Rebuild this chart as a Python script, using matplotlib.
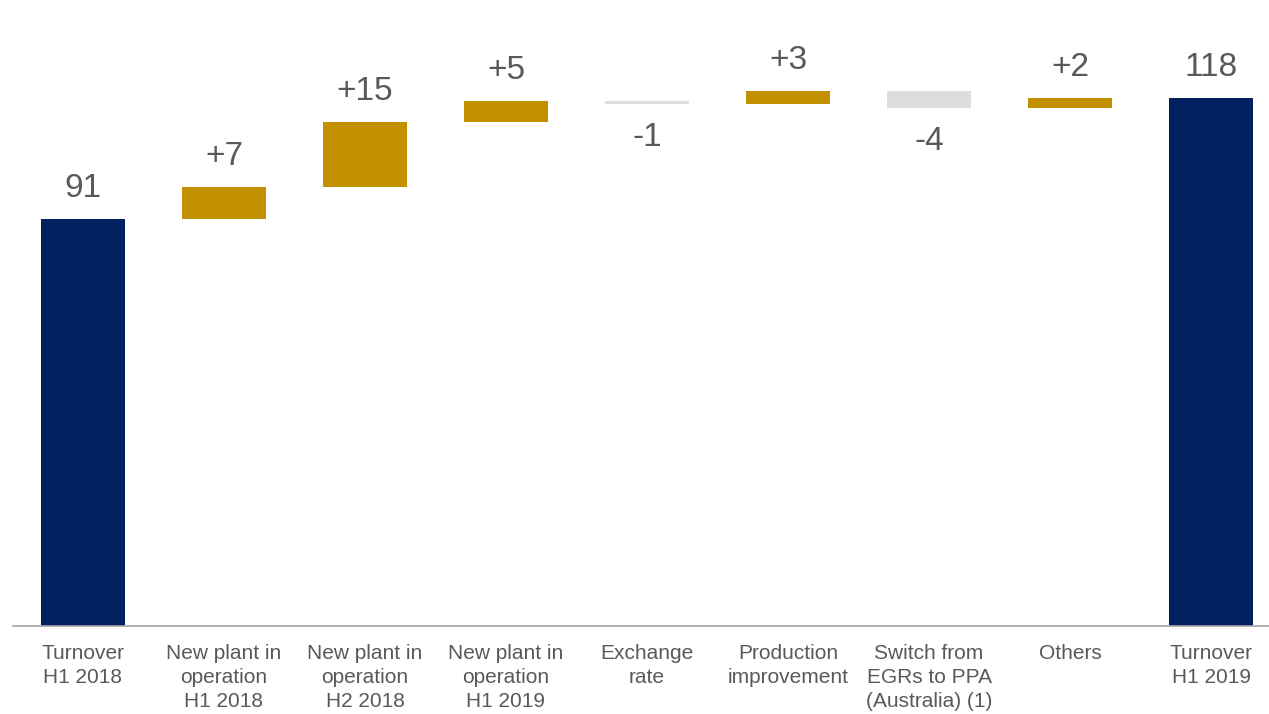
import numpy as np
import matplotlib.pyplot as plt

# Turnover bridge H1 2018 -> H1 2019
categories = ['Turnover\nH1 2018', 'New plant in\noperation\nH1 2018', 'New plant in\noperation\nH2 2018',
              'New plant in\noperation\nH1 2019', 'Exchange\nrate', 'Production\nimprovement',
              'Switch from\nEGRs to PPA\n(Australia) (1)', 'Others', 'Turnover\nH1 2019']
start_value = 91
changes = [7.1, 14.6, 4.7, -0.6, 2.8, -3.7, 2.2]
change_labels = ['+7', '+15', '+5', '-1', '+3', '-4', '+2']
end_value = 118

navy = '#002060'
gold = '#C39000'
grey = '#DDDDDD'
text_col = '#595959'

plt.rcParams['font.family'] = ['Liberation Sans', 'DejaVu Sans']

fig = plt.figure(figsize=(12.69, 7.14), dpi=100)
ax = fig.add_axes([13 / 1269, 88 / 714, 1 - 13 / 1269, 626 / 714])

width = 0.59
x = np.arange(len(categories))

# totals
ax.bar(x[0], start_value, width, color=navy)
ax.bar(x[-1], end_value, width, color=navy)
ax.text(x[0], start_value + 3.4, str(start_value), ha='center', va='bottom', fontsize=24, color=text_col)
ax.text(x[-1], end_value + 3.4, str(end_value), ha='center', va='bottom', fontsize=24, color=text_col)

# floating steps
level = start_value
for i, (d, lab) in enumerate(zip(changes, change_labels)):
    xi = x[i + 1]
    col = gold if d > 0 else grey
    ax.bar(xi, d, width, bottom=level, color=col)
    if d > 0:
        ax.text(xi, level + d + 3.4, lab, ha='center', va='bottom', fontsize=24, color=text_col)
    else:
        ax.text(xi, level + d - 4.0, lab, ha='center', va='top', fontsize=24, color=text_col)
    level += d

ax.set_xlim(-0.496, 8.411)
ax.set_ylim(0, 140)
ax.set_xticks(x)
ax.set_xticklabels(categories, fontsize=15, color=text_col, linespacing=1.32)
ax.tick_params(axis='x', length=0, pad=13)
ax.set_yticks([])
for s in ['top', 'right', 'left']:
    ax.spines[s].set_visible(False)
ax.spines['bottom'].set_color('#A6A6A6')
ax.spines['bottom'].set_linewidth(1.2)

fig.savefig('out.png', dpi=100)
